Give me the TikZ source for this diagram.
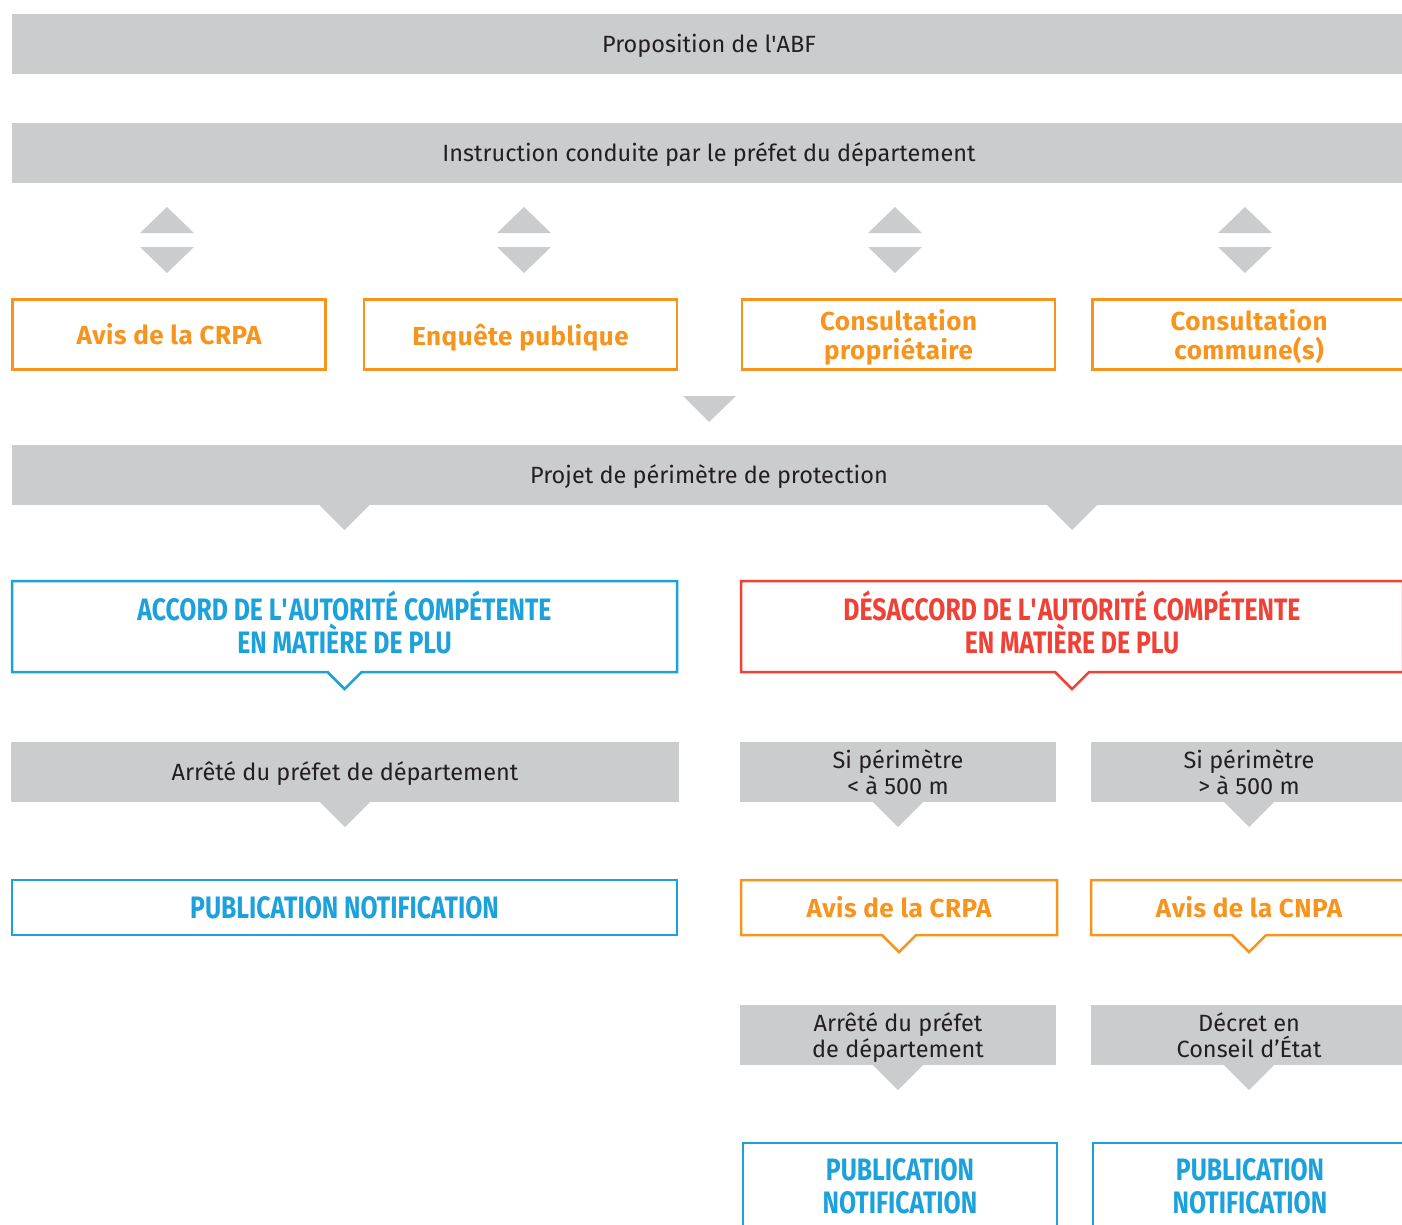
\documentclass[tikz,border=0pt]{standalone}
\usepackage{fontspec}
\setmainfont{Fira Sans}
\newfontfamily\condfont[FakeStretch=0.80]{Fira Sans}
\newfontfamily\ofont[LetterSpace=2]{Fira Sans}
\usetikzlibrary{calc}
\definecolor{bargray}{HTML}{CBCCCE}
\definecolor{txtgray}{HTML}{231F20}
\definecolor{orng}{HTML}{F7941D}
\definecolor{blu}{HTML}{1DA1DB}
\definecolor{rd}{HTML}{EF4136}
\newcommand\lowered[2]{\raisebox{-#1}[\height][\depth]{#2}}
\begin{document}
\begin{tikzpicture}[x=1pt,y=-1pt,
  bar/.style={fill=bargray, inner sep=0pt, outer sep=0pt, minimum height=60pt, text=txtgray,
    font=\fontsize{23.5}{26}\selectfont, align=center},
  obox/.style={draw=orng, line width=2.5pt, inner sep=0pt, outer sep=0pt, text=orng,
    font=\fontsize{26}{29}\selectfont\ofont\bfseries, align=center},
  cbox/.style={inner sep=0pt, outer sep=0pt, font=\fontsize{31}{33}\selectfont\condfont\bfseries, align=center},
]
\useasboundingbox (0,0) rectangle (1402,1224);
\clip (0,0) rectangle (1402,1224);

\newcommand\callout[2]{%
  \draw[#2, line width=2.5pt, line join=miter] (#1.south west) -- (#1.north west) -- (#1.north east) -- (#1.south east)
    -- ($(#1.south)+(17,0)$) -- ($(#1.south)+(0,17)$) -- ($(#1.south)+(-17,0)$) -- cycle;}
\newcommand\notch[2]{% bar, target node
  \fill[bargray] ($(#1.south -| #2)+(-25,0)$) -- ($(#1.south -| #2)+(25,0)$) -- ($(#1.south -| #2)+(0,25)$) -- cycle;}

% top bars
\node[bar, minimum width=1394pt] (b1) at (709,44) {\lowered{2pt}{Proposition de l\textquotesingle ABF}};
\node[bar, minimum width=1394pt] (b2) at (709,153) {\lowered{2pt}{Instruction conduite par le préfet du département}};

% orange consultation boxes
\node[obox, minimum width=313pt, minimum height=70pt] (o1) at (169,334.5) {Avis de la CRPA};
\node[obox, minimum width=313pt, minimum height=70pt] (o2) at (520.5,334.5) {\lowered{3pt}{Enquête publique}};
\node[obox, minimum width=313pt, minimum height=70pt, text depth=0pt] (o3) at (898.5,334.5) {Consultation\\propriétaire};
\node[obox, minimum width=313pt, minimum height=70pt, text depth=0pt] (o4) at (1249,334.5) {Consultation\\commune(s)};

% double arrows
\foreach \x in {167,524,895,1245}{
  \fill[bargray] (\x-27,233) -- (\x,207) -- (\x+27,233) -- cycle;
  \fill[bargray] (\x-27,247) -- (\x+27,247) -- (\x,273) -- cycle;
}
\fill[bargray] (683,396) -- (736,396) -- (709,422) -- cycle;

% projet bar
\node[bar, minimum width=1394pt] (b3) at (709,475) {\lowered{2pt}{Projet de périmètre de protection}};

% accord / desaccord
\node[cbox, text=blu, minimum width=665pt, minimum height=91pt, text depth=8pt] (cb1) at (344.5,626.5) {ACCORD DE L\textquotesingle AUTORITÉ COMPÉTENTE\\EN MATIÈRE DE PLU};
\node[cbox, text=rd, minimum width=662pt, minimum height=91pt, text depth=8pt] (cr1) at (1072,626.5) {DÉSACCORD DE L\textquotesingle AUTORITÉ COMPÉTENTE\\EN MATIÈRE DE PLU};
\callout{cb1}{blu}
\callout{cr1}{rd}
\notch{b3}{cb1}
\notch{b3}{cr1}

% left branch
\node[bar, minimum width=668pt] (b4) at (345,772) {\lowered{2pt}{Arrêté du préfet de département}};
\notch{b4}{b4}
\node[cbox, draw=blu, line width=2.5pt, text=blu, minimum width=665pt, minimum height=55pt] (p1) at (344.5,907.5) {PUBLICATION NOTIFICATION};

% right branch
\node[bar, minimum width=316pt] (b5) at (898,772) {Si périmètre\\< à 500 m};
\node[bar, minimum width=316pt] (b6) at (1249,772) {Si périmètre\\> à 500 m};
\notch{b5}{b5}
\notch{b6}{b6}

\node[obox, draw=none, minimum width=316pt, minimum height=55pt] (a1) at (899,907.5) {Avis de la CRPA};
\node[obox, draw=none, minimum width=316pt, minimum height=55pt] (a2) at (1249,907.5) {Avis de la CNPA};
\callout{a1}{orng}
\callout{a2}{orng}

\node[bar, minimum width=316pt, text depth=0pt] (b7) at (898,1035) {Arrêté du préfet\\de département};
\node[bar, minimum width=316pt] (b8) at (1249,1035) {Décret en\\Conseil d’État};
\notch{b7}{b7}
\notch{b8}{b8}

\node[cbox, draw=blu, line width=2.5pt, text=blu, minimum width=314pt, minimum height=90pt, text depth=4pt] (p2) at (900,1188) {PUBLICATION\\NOTIFICATION};
\node[cbox, draw=blu, line width=2.5pt, text=blu, minimum width=314pt, minimum height=90pt, text depth=4pt] (p3) at (1250,1188) {PUBLICATION\\NOTIFICATION};
\end{tikzpicture}
\end{document}
